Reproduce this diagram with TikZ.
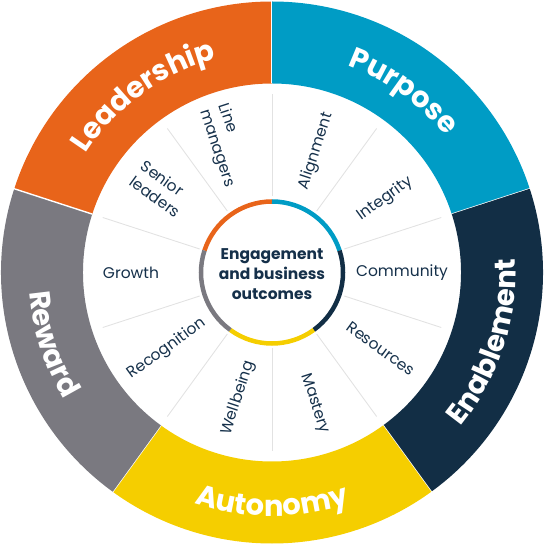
\documentclass[tikz,border=0pt]{standalone}
\usepackage{fontspec}
\setmainfont{Poppins}
\usetikzlibrary{decorations.text}
\definecolor{leadc}{HTML}{E8641A}
\definecolor{purpc}{HTML}{009CC5}
\definecolor{enabc}{HTML}{122E45}
\definecolor{autoc}{HTML}{F5CE00}
\definecolor{rewdc}{HTML}{7A7980}
\definecolor{inkc}{HTML}{15304A}
\definecolor{sepc}{HTML}{E2E2E2}
\tikzset{
  seg/.style={line width=4.5pt},
  sepline/.style={draw=sepc, line width=0.9pt},
  lab/.style={text=inkc, font=\fontsize{15.5}{19}\selectfont, align=left, inner sep=0pt},
  core/.style={text=inkc, font=\bfseries\fontsize{15.5}{20}\selectfont, align=center, inner sep=0pt},
}
\newcommand{\outf}{\bfseries\fontsize{29}{31}\selectfont}
\begin{document}
\begin{tikzpicture}[x=1pt,y=1pt]
\useasboundingbox (-272,-272.5) rectangle (272,272.5);
\def\Ro{271}\def\Ri{189}
% outer sectors
\foreach \s/\c in {90/leadc,18/purpc,-54/enabc,-126/autoc,162/rewdc}{
  \pgfmathsetmacro\e{\s+72}
  \fill[\c] (\s:\Ri) arc[start angle=\s, end angle=\e, radius=\Ri] -- (\e:\Ro)
     arc[start angle=\e, end angle=\s, radius=\Ro] -- cycle;
  \draw[white, line width=1.4pt] (\s:\Ri) -- (\s:\Ro+3);
}
% separators
\foreach \a in {90,126,162,198,234,270,306,342,18,54}{
  \draw[sepline] (\a:76) -- (\a:178);
}
% center ring
\foreach \s/\c in {90/leadc,18/purpc,-54/enabc,-126/autoc,162/rewdc}{
  \pgfmathsetmacro\e{\s+72}
  \draw[seg, \c] (\s:71) arc[start angle=\s, end angle=\e, radius=71];
}
\node[core] (coretext) at (0,-2) {Engagement\\and business\\outcomes};
% inner labels
\node[lab, rotate=-72] (linem) at (110:135) {Line\\managers};
\node[lab, rotate=-36] (senior) at (143:139) {Senior\\leaders};
\node[lab] (growth) at (180:141) {Growth};
\node[lab, rotate=36] (recog) at (216:130) {Recognition};
\node[lab, rotate=72] (wellb) at (255:130) {Wellbeing};
\node[lab, rotate=-72] (master) at (-72:138) {Mastery};
\node[lab, rotate=-36] (resour) at (-35:133) {Resources};
\node[lab] (commun) at (0:130) {Community};
\node[lab, rotate=36] (integ) at (33:135) {Integrity};
\node[lab, rotate=72] (align) at (70:129) {Alignment};
% outer labels
\path[decorate, decoration={text along path, text={|\outf|Leadership}, text align=center, text color=white}]
  (166:220.5) arc[start angle=166, end angle=86, radius=220.5];
\path[decorate, decoration={text along path, text={|\outf|Purpose}, text align=center, text color=white}]
  (94:220.5) arc[start angle=94, end angle=14, radius=220.5];
\path[decorate, decoration={text along path, text={|\outf|Enablement}, text align=center, text color=white}]
  (-58:243.5) arc[start angle=-58, end angle=22, radius=243.5];
\path[decorate, decoration={text along path, text={|\outf|Autonomy}, text align=center, text color=white}]
  (-130:243.5) arc[start angle=-130, end angle=-50, radius=243.5];
\path[decorate, decoration={text along path, text={|\outf|Reward}, text align=center, text color=white}]
  (158:243.5) arc[start angle=158, end angle=238, radius=243.5];
\end{tikzpicture}
\end{document}
